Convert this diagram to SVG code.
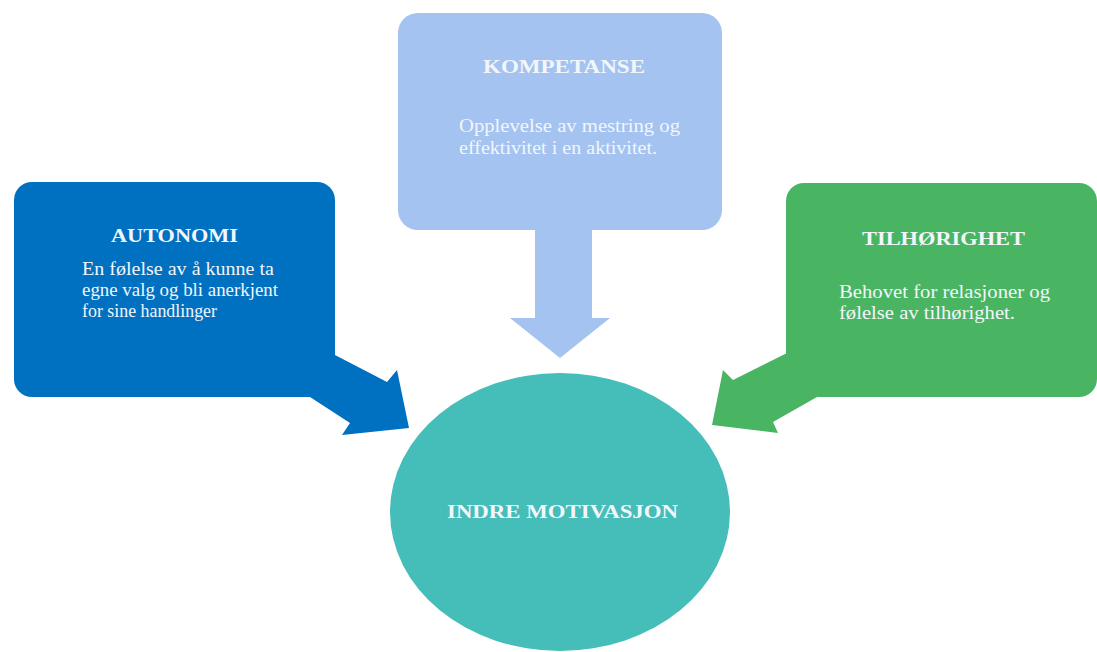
<svg xmlns="http://www.w3.org/2000/svg" width="1097" height="652" viewBox="0 0 1097 652">
<style>
.t{font-family:"Liberation Serif","Times New Roman",serif;fill:#F2F6FB}
.h{font-size:19px;font-weight:bold}
.b{font-size:18px}
.blue{fill:#0070C0}
.light{fill:#A4C3F0}
.green{fill:#49B562}
.teal{fill:#45BDB8}
</style>
<rect width="1097" height="652" fill="#FFFFFF"/>
<g id="connectors">
<polygon class="blue" points="310,355 335,355 387,382 397,370 409,428 342,435 350,423 310,397"/>
<polygon class="light" points="535,225 592,225 592,318 610,318 560,358 510,318 535,318"/>
<polygon class="green" points="817,397 773,422 778,433 712,425 723,370 733,380 787,353 817,353"/>
</g>
<g id="autonomi">
<rect class="blue" x="14" y="182" width="321" height="215" rx="18"/>
<text class="t h" x="111" y="242" textLength="127" lengthAdjust="spacingAndGlyphs">AUTONOMI</text>
<text class="t b" x="82" y="275" textLength="192" lengthAdjust="spacingAndGlyphs">En følelse av å kunne ta</text>
<text class="t b" x="82" y="296" textLength="196" lengthAdjust="spacingAndGlyphs">egne valg og bli anerkjent</text>
<text class="t b" x="82" y="317" textLength="135" lengthAdjust="spacingAndGlyphs">for sine handlinger</text>
</g>
<g id="kompetanse">
<rect class="light" x="398" y="13" width="324" height="217" rx="20"/>
<text class="t h" x="483" y="73" textLength="162" lengthAdjust="spacingAndGlyphs">KOMPETANSE</text>
<text class="t b" x="459" y="132" textLength="221" lengthAdjust="spacingAndGlyphs">Opplevelse av mestring og</text>
<text class="t b" x="459" y="154" textLength="198" lengthAdjust="spacingAndGlyphs">effektivitet i en aktivitet.</text>
</g>
<g id="tilhorighet">
<rect class="green" x="786" y="183" width="311" height="214" rx="18"/>
<text class="t h" x="862" y="245" textLength="163" lengthAdjust="spacingAndGlyphs">TILHØRIGHET</text>
<text class="t b" x="839" y="298" textLength="211" lengthAdjust="spacingAndGlyphs">Behovet for relasjoner og</text>
<text class="t b" x="839" y="319" textLength="176" lengthAdjust="spacingAndGlyphs">følelse av tilhørighet.</text>
</g>
<g id="indre-motivasjon">
<ellipse class="teal" cx="560" cy="512" rx="170" ry="139"/>
<text class="t h" x="447" y="518" textLength="231" lengthAdjust="spacingAndGlyphs">INDRE MOTIVASJON</text>
</g>
</svg>
